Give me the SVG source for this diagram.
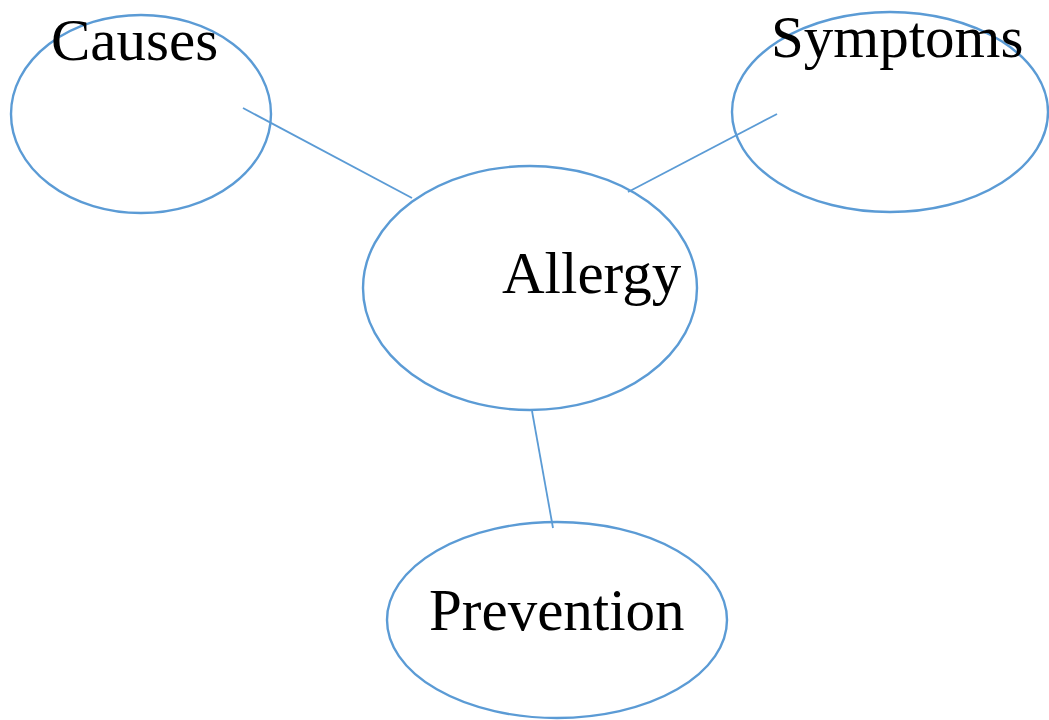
<svg xmlns="http://www.w3.org/2000/svg" width="1049" height="720" viewBox="0 0 1049 720">
<style>
.node{fill:none;stroke:#5B9BD5;stroke-width:2.4}
.edge{stroke:#5B9BD5;stroke-width:1.8;fill:none}
.lbl{font-family:"Liberation Serif","Times New Roman",serif;font-size:59px;fill:#000}
</style>
<rect width="1049" height="720" fill="#fff"/>
<g id="connectors">
<line class="edge" x1="243" y1="108" x2="412" y2="198"/>
<line class="edge" x1="777" y1="114" x2="628" y2="192"/>
<line class="edge" x1="532" y1="411" x2="553" y2="528"/>
</g>
<g id="causes">
<ellipse class="node" cx="141" cy="114" rx="130" ry="99"/>
<text class="lbl" x="51" y="60">Causes</text>
</g>
<g id="symptoms">
<ellipse class="node" cx="890" cy="112" rx="158" ry="100"/>
<text class="lbl" x="771" y="57">Symptoms</text>
</g>
<g id="allergy">
<ellipse class="node" cx="530" cy="288" rx="167" ry="122"/>
<text class="lbl" x="502" y="293">Allergy</text>
</g>
<g id="prevention">
<ellipse class="node" cx="557" cy="620" rx="170" ry="98"/>
<text class="lbl" x="429" y="630">Prevention</text>
</g>
</svg>
